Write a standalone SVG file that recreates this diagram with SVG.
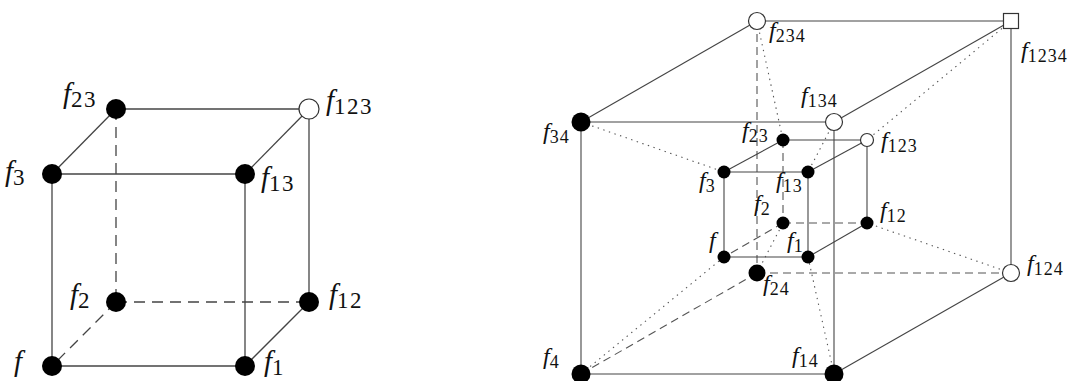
<svg xmlns="http://www.w3.org/2000/svg" width="1070" height="381" viewBox="0 0 1070 381">
<style>
.e{stroke:#444;stroke-width:1.3;fill:none}
.d{stroke:#444;stroke-width:1.3;fill:none;stroke-dasharray:11 7}
.e2{stroke:#444;stroke-width:1.1;fill:none}
.d2{stroke:#555;stroke-width:1.1;fill:none;stroke-dasharray:8 5}
.o2{stroke:#555;stroke-width:1.1;fill:none;stroke-dasharray:1.4 4.5}
.fn{fill:#000}
.on{fill:#fff;stroke:#333;stroke-width:1.2}
.L{font-family:"Liberation Serif","DejaVu Serif",serif;font-size:29px;fill:#111}
.R{font-family:"Liberation Serif","DejaVu Serif",serif;font-size:24px;fill:#111}
.i{font-style:italic}
.sL{font-size:23px;letter-spacing:1.5px}
.sR{font-size:18px;letter-spacing:1px}
</style>
<g id="connectors">
<line class="e" x1="116" y1="109" x2="309" y2="109"/>
<line class="e" x1="52" y1="174" x2="116" y2="109"/>
<line class="e" x1="52" y1="174" x2="245" y2="174"/>
<line class="e" x1="245" y1="174" x2="309" y2="109"/>
<line class="e" x1="52" y1="174" x2="52" y2="366"/>
<line class="e" x1="245" y1="174" x2="245" y2="366"/>
<line class="e" x1="309" y1="109" x2="309" y2="302"/>
<line class="e" x1="52" y1="366" x2="245" y2="366"/>
<line class="e" x1="245" y1="366" x2="309" y2="302"/>
<line class="d" x1="116" y1="109" x2="116" y2="302"/>
<line class="d" x1="116" y1="302" x2="309" y2="302"/>
<line class="d" x1="116" y1="302" x2="52" y2="366"/>
<line class="e2" x1="757" y1="21" x2="1011" y2="21"/>
<line class="e2" x1="581" y1="122" x2="757" y2="21"/>
<line class="e2" x1="581" y1="122" x2="834" y2="122"/>
<line class="e2" x1="834" y1="122" x2="1011" y2="21"/>
<line class="e2" x1="581" y1="122" x2="581" y2="374"/>
<line class="e2" x1="834" y1="122" x2="834" y2="374"/>
<line class="e2" x1="1011" y1="21" x2="1011" y2="273"/>
<line class="e2" x1="581" y1="374" x2="834" y2="374"/>
<line class="e2" x1="834" y1="374" x2="1011" y2="273"/>
<line class="d2" x1="757" y1="21" x2="757" y2="273"/>
<line class="d2" x1="757" y1="273" x2="1011" y2="273"/>
<line class="d2" x1="757" y1="273" x2="581" y2="374"/>
<line class="e2" x1="783" y1="140" x2="867" y2="140"/>
<line class="e2" x1="724" y1="172" x2="783" y2="140"/>
<line class="e2" x1="724" y1="172" x2="808" y2="172"/>
<line class="e2" x1="808" y1="172" x2="867" y2="140"/>
<line class="e2" x1="724" y1="172" x2="724" y2="257"/>
<line class="e2" x1="808" y1="172" x2="808" y2="257"/>
<line class="e2" x1="867" y1="140" x2="867" y2="223"/>
<line class="e2" x1="724" y1="257" x2="808" y2="257"/>
<line class="e2" x1="808" y1="257" x2="867" y2="223"/>
<line class="d2" x1="783" y1="140" x2="783" y2="223"/>
<line class="d2" x1="783" y1="223" x2="867" y2="223"/>
<line class="d2" x1="783" y1="223" x2="724" y2="257"/>
<line class="o2" x1="757" y1="21" x2="783" y2="140"/>
<line class="o2" x1="1011" y1="21" x2="867" y2="140"/>
<line class="o2" x1="581" y1="122" x2="724" y2="172"/>
<line class="o2" x1="834" y1="122" x2="808" y2="172"/>
<line class="o2" x1="1011" y1="273" x2="867" y2="223"/>
<line class="o2" x1="581" y1="374" x2="724" y2="257"/>
<line class="o2" x1="834" y1="374" x2="808" y2="257"/>
<line class="o2" x1="757" y1="273" x2="783" y2="223"/>
</g>
<g id="L-f"><circle class="fn" cx="52" cy="366" r="10"/><text class="L" x="14" y="371"><tspan class="i">f</tspan></text></g>
<g id="L-f1"><circle class="fn" cx="245" cy="366" r="10"/><text class="L" x="264" y="371"><tspan class="i">f</tspan><tspan class="sL" dy="4">1</tspan></text></g>
<g id="L-f2"><circle class="fn" cx="116" cy="302" r="10"/><text class="L" x="70" y="304"><tspan class="i">f</tspan><tspan class="sL" dy="4">2</tspan></text></g>
<g id="L-f3"><circle class="fn" cx="52" cy="174" r="10"/><text class="L" x="5" y="181"><tspan class="i">f</tspan><tspan class="sL" dy="4">3</tspan></text></g>
<g id="L-f12"><circle class="fn" cx="309" cy="302" r="10"/><text class="L" x="329" y="304"><tspan class="i">f</tspan><tspan class="sL" dy="4">12</tspan></text></g>
<g id="L-f13"><circle class="fn" cx="245" cy="174" r="10"/><text class="L" x="261" y="187"><tspan class="i">f</tspan><tspan class="sL" dy="4">13</tspan></text></g>
<g id="L-f23"><circle class="fn" cx="116" cy="109" r="10"/><text class="L" x="63" y="103"><tspan class="i">f</tspan><tspan class="sL" dy="4">23</tspan></text></g>
<g id="L-f123"><circle class="on" cx="309" cy="109" r="10"/><text class="L" x="326" y="110"><tspan class="i">f</tspan><tspan class="sL" dy="4">123</tspan></text></g>
<g id="R-f"><circle class="fn" cx="724" cy="257" r="6.5"/><text class="R" x="709" y="248"><tspan class="i">f</tspan></text></g>
<g id="R-f1"><circle class="fn" cx="808" cy="257" r="6.5"/><text class="R" x="787" y="248"><tspan class="i">f</tspan><tspan class="sR" dy="4">1</tspan></text></g>
<g id="R-f2"><circle class="fn" cx="783" cy="223" r="6.5"/><text class="R" x="754" y="211"><tspan class="i">f</tspan><tspan class="sR" dy="4">2</tspan></text></g>
<g id="R-f3"><circle class="fn" cx="724" cy="172" r="6.5"/><text class="R" x="699" y="188"><tspan class="i">f</tspan><tspan class="sR" dy="4">3</tspan></text></g>
<g id="R-f12"><circle class="fn" cx="867" cy="223" r="6.5"/><text class="R" x="880" y="218"><tspan class="i">f</tspan><tspan class="sR" dy="4">12</tspan></text></g>
<g id="R-f13"><circle class="fn" cx="808" cy="172" r="6.5"/><text class="R" x="776" y="188"><tspan class="i">f</tspan><tspan class="sR" dy="4">13</tspan></text></g>
<g id="R-f23"><circle class="fn" cx="783" cy="140" r="6.5"/><text class="R" x="742" y="138"><tspan class="i">f</tspan><tspan class="sR" dy="4">23</tspan></text></g>
<g id="R-f123"><circle class="on" cx="867" cy="140" r="6.5"/><text class="R" x="881" y="148"><tspan class="i">f</tspan><tspan class="sR" dy="4">123</tspan></text></g>
<g id="R-f4"><circle class="fn" cx="581" cy="374" r="9.5"/><text class="R" x="543" y="364"><tspan class="i">f</tspan><tspan class="sR" dy="4">4</tspan></text></g>
<g id="R-f14"><circle class="fn" cx="834" cy="374" r="9.5"/><text class="R" x="792" y="363"><tspan class="i">f</tspan><tspan class="sR" dy="4">14</tspan></text></g>
<g id="R-f24"><circle class="fn" cx="757" cy="273" r="8.5"/><text class="R" x="763" y="291"><tspan class="i">f</tspan><tspan class="sR" dy="4">24</tspan></text></g>
<g id="R-f34"><circle class="fn" cx="581" cy="122" r="9.5"/><text class="R" x="543" y="139"><tspan class="i">f</tspan><tspan class="sR" dy="4">34</tspan></text></g>
<g id="R-f124"><circle class="on" cx="1011" cy="273" r="8.5"/><text class="R" x="1027" y="271"><tspan class="i">f</tspan><tspan class="sR" dy="4">124</tspan></text></g>
<g id="R-f134"><circle class="on" cx="834" cy="122" r="8.5"/><text class="R" x="801" y="103"><tspan class="i">f</tspan><tspan class="sR" dy="4">134</tspan></text></g>
<g id="R-f234"><circle class="on" cx="757" cy="21" r="8.5"/><text class="R" x="769" y="38"><tspan class="i">f</tspan><tspan class="sR" dy="4">234</tspan></text></g>
<g id="R-f1234"><rect class="on" x="1003.5" y="13.5" width="15" height="15"/><text class="R" x="1021" y="58"><tspan class="i">f</tspan><tspan class="sR" dy="4">1234</tspan></text></g>
</svg>
